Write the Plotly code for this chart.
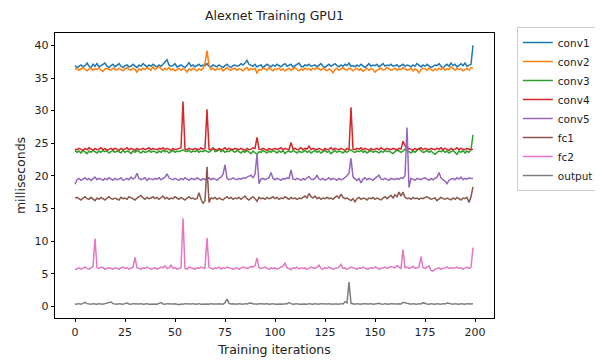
import plotly.graph_objects as go

iterations = list(range(200))

conv1 = [
36.9,36.6,36.8,37.0,36.7,36.9,37.3,36.8,36.6,37.1,36.8,37.2,36.7,36.9,37.0,37.3,36.8,36.6,36.9,37.1,
36.7,36.9,37.2,36.8,36.6,36.9,37.0,36.7,36.8,37.1,36.9,36.6,37.0,36.8,37.2,36.9,36.7,37.0,36.8,37.1,
36.9,36.7,37.0,36.8,37.1,37.4,37.8,37.0,36.8,36.9,37.2,36.7,36.9,37.0,36.8,36.6,36.9,37.4,36.8,37.0,
36.7,36.9,37.1,36.8,37.0,36.9,37.2,36.8,36.7,37.0,36.9,36.7,37.0,36.8,36.6,36.9,37.1,36.8,36.6,36.9,
37.0,36.8,36.9,37.2,37.0,37.3,37.7,37.1,36.9,36.8,37.1,36.7,36.9,37.0,36.6,36.8,37.1,36.9,36.7,37.0,
36.8,37.1,36.9,36.7,37.0,37.2,36.8,36.9,37.1,36.7,36.9,37.0,37.3,36.8,36.7,37.0,36.9,37.1,36.8,36.9,
37.0,36.7,36.9,37.2,36.8,36.6,36.9,37.1,36.8,37.0,37.2,36.9,36.7,37.0,36.8,37.1,36.9,37.3,36.8,36.9,
36.7,37.0,36.8,37.1,36.9,36.6,36.9,37.2,36.8,37.0,36.9,37.1,36.7,36.9,37.2,36.8,37.0,36.9,37.1,36.8,
36.9,37.0,36.7,36.9,37.1,36.8,37.0,36.9,36.7,37.0,36.8,37.2,36.9,36.7,37.0,36.8,37.1,36.9,36.6,36.8,
37.0,36.9,37.2,36.8,36.5,36.9,37.1,36.8,37.3,36.9,37.1,36.7,37.0,37.2,36.9,37.3,36.8,37.0,37.1,40.0]

conv2 = [
36.3,36.5,36.2,36.4,36.6,36.3,36.1,36.4,36.5,36.2,36.4,36.3,36.6,36.2,36.0,36.4,36.5,36.3,36.2,36.5,
36.4,36.2,36.5,36.3,36.1,36.4,36.6,36.3,36.2,36.5,36.3,35.9,36.4,36.2,36.5,36.3,36.6,36.4,36.2,36.7,
36.3,36.5,36.8,36.4,36.2,36.5,36.3,36.6,36.2,36.4,36.1,36.3,36.5,36.2,36.4,36.3,35.9,36.4,36.2,36.5,
36.3,36.1,36.4,36.2,36.5,37.2,39.2,37.0,36.3,36.5,36.2,36.4,36.3,36.5,36.1,36.4,36.6,36.3,36.2,36.4,
36.5,36.2,36.4,36.3,36.1,36.4,36.6,36.2,36.4,36.3,36.5,35.7,36.3,36.2,36.5,36.4,36.2,36.6,36.3,36.1,
36.4,36.3,36.5,36.2,36.4,36.1,36.3,36.5,36.2,36.4,36.6,36.3,36.1,36.4,36.2,36.5,36.3,36.4,36.2,36.5,
36.3,36.6,36.4,36.2,36.5,36.3,36.1,36.4,36.2,35.8,36.3,36.5,36.2,36.4,36.6,36.3,36.2,36.5,36.4,36.1,
36.3,36.5,36.2,36.4,36.0,36.3,36.5,36.2,36.4,36.3,35.9,36.2,36.4,36.5,36.2,36.3,36.6,36.4,36.2,36.3,
36.5,36.2,36.4,36.3,36.6,36.4,36.2,36.3,36.5,36.1,36.4,36.2,35.8,36.3,36.5,36.4,36.2,36.5,36.3,36.1,
36.4,36.2,36.5,36.3,36.6,36.2,36.4,36.3,36.7,36.4,36.2,36.5,36.3,36.4,36.1,36.3,36.5,36.2,36.6,36.5]

conv3 = [
23.9,23.6,23.8,23.5,23.9,23.7,23.4,23.8,23.6,23.9,23.7,23.5,23.8,23.6,23.9,23.7,23.8,23.5,23.7,23.9,
23.6,23.8,23.7,23.5,23.9,23.6,23.8,23.7,23.4,23.8,23.6,23.9,23.7,23.5,23.8,23.6,23.7,23.9,23.6,23.8,
23.7,23.5,23.8,23.6,23.9,23.7,23.8,23.5,23.7,23.9,23.6,23.8,23.7,23.9,24.0,23.8,23.7,23.9,23.6,23.8,
23.7,23.9,23.6,23.8,23.7,23.9,23.8,23.6,23.9,24.3,23.7,23.8,24.1,23.7,23.9,23.6,23.8,23.7,24.0,23.8,
23.6,23.9,23.7,23.5,23.8,23.6,23.9,23.7,23.4,23.8,23.5,23.3,23.7,23.6,23.9,23.7,23.5,23.8,23.6,23.9,
23.7,23.5,23.8,23.6,23.9,23.4,23.7,23.8,23.6,23.9,23.7,23.5,23.8,23.6,23.7,23.9,23.6,23.8,23.5,23.7,
23.9,23.6,23.8,23.5,23.7,23.9,23.6,23.8,23.4,23.7,23.9,23.6,23.8,23.7,23.5,23.8,23.6,23.9,24.0,23.7,
23.6,23.8,23.7,23.9,23.6,23.8,23.5,23.7,23.9,23.6,23.8,23.7,23.5,23.8,23.6,23.9,23.7,23.8,23.6,23.4,
23.7,23.9,23.8,23.6,23.8,24.1,23.9,23.7,23.5,23.8,23.6,23.9,24.2,23.8,23.6,23.7,23.9,23.6,23.8,23.5,
23.3,23.6,23.8,23.7,23.9,23.6,23.8,23.5,23.7,23.9,23.6,23.3,23.8,23.6,23.9,23.5,23.8,23.6,24.0,26.3]

conv4 = [
24.1,24.0,24.2,24.1,23.9,24.2,24.0,24.3,24.1,23.9,24.2,24.0,24.1,24.3,24.0,24.2,23.9,24.1,24.2,24.0,
24.2,24.1,23.9,24.2,24.0,24.1,24.3,24.0,24.2,24.1,23.9,24.2,24.0,24.1,24.2,24.0,24.1,24.3,24.0,24.2,
24.1,24.0,24.2,24.1,24.3,24.0,24.2,24.1,23.9,24.2,24.0,24.1,24.2,24.3,31.4,24.1,24.0,24.2,24.1,24.0,
24.2,24.1,24.0,24.3,24.1,24.2,30.2,24.1,24.0,24.2,24.1,23.9,24.2,24.0,24.1,24.3,24.0,24.2,24.1,24.0,
24.2,24.1,24.0,24.2,24.1,23.9,24.2,24.0,24.1,24.3,24.2,25.9,24.1,24.0,24.2,24.1,23.9,24.2,24.0,24.1,
24.2,24.0,24.1,24.3,24.0,24.2,24.1,24.0,25.1,24.1,24.2,24.0,24.1,24.3,24.0,24.2,24.1,24.6,24.0,24.2,
24.1,24.0,24.2,24.1,23.9,24.2,24.0,24.1,24.3,24.0,24.2,24.1,24.0,24.2,24.1,23.9,24.2,24.0,30.5,24.1,
24.0,24.2,24.1,24.3,24.0,24.2,24.1,23.9,24.2,24.0,24.1,24.2,24.0,24.3,24.1,24.0,24.2,24.1,24.0,24.2,
24.1,24.0,24.2,24.1,25.3,24.5,24.0,24.2,24.1,23.9,24.2,24.0,24.1,24.3,24.0,24.2,24.1,24.0,24.2,24.1,
24.0,24.2,24.1,24.3,24.0,24.2,24.1,23.9,24.2,24.0,24.1,24.3,24.0,24.2,24.1,24.0,24.2,24.1,24.0,24.1]

conv5 = [
18.7,19.4,19.6,19.3,19.5,19.7,19.4,19.6,19.3,19.5,19.8,19.4,19.6,19.5,19.3,19.6,19.4,19.7,19.5,19.3,
19.6,19.4,19.5,19.7,19.3,19.5,19.6,19.4,19.8,19.5,19.7,20.4,19.6,19.4,19.5,19.7,19.3,19.6,19.5,19.4,
19.6,19.5,19.7,19.4,19.6,19.8,20.3,19.7,19.5,19.4,19.6,19.5,19.3,19.6,19.4,19.7,19.5,19.3,19.6,19.5,
19.4,19.7,19.5,19.3,19.6,19.4,19.5,19.7,19.4,19.6,19.5,19.3,19.6,19.8,20.2,21.7,19.6,19.4,19.5,19.7,
19.5,19.4,19.6,19.5,19.7,19.6,19.8,19.9,20.1,19.7,20.2,23.3,18.8,19.5,19.6,19.4,19.5,19.7,20.5,19.6,
19.4,19.6,19.5,19.3,19.6,19.5,19.7,19.6,20.9,19.5,19.4,19.6,19.5,19.3,19.6,19.4,19.7,19.9,19.5,19.4,
19.6,20.1,19.5,19.4,19.6,19.3,19.5,19.7,19.4,19.6,19.5,19.3,19.6,19.4,19.5,19.7,20.0,20.4,22.7,19.8,
19.5,19.3,19.6,18.9,19.5,19.7,19.4,19.6,19.5,19.3,19.6,19.8,20.1,19.5,19.4,19.6,19.5,19.3,19.6,19.5,
19.4,19.6,19.5,19.7,19.6,20.0,27.4,18.2,19.6,19.5,19.3,19.6,19.5,19.4,19.6,19.7,19.5,19.3,19.6,19.4,
19.6,19.8,20.5,19.7,19.4,19.2,18.8,19.3,19.5,19.6,19.4,19.7,19.5,19.8,19.4,19.6,19.5,19.7,19.6,19.6]

fc1 = [
16.6,16.7,16.5,16.3,16.6,16.8,16.5,16.4,16.7,16.5,16.2,16.6,16.4,16.7,16.5,16.3,16.6,16.8,16.5,16.4,
16.6,16.5,16.3,16.7,16.5,16.6,16.4,16.8,16.6,16.5,16.3,16.6,16.8,17.0,16.6,16.4,16.7,16.5,16.6,16.8,
16.5,16.7,16.4,16.6,16.9,16.5,16.7,16.4,16.6,16.5,16.8,16.6,16.4,16.7,16.5,16.3,16.6,16.8,16.5,16.6,
16.4,16.5,17.4,16.4,15.8,16.2,21.4,15.9,16.6,16.5,16.7,16.4,16.6,16.5,16.3,16.6,16.8,16.5,16.7,16.4,
16.6,16.5,16.7,16.4,16.6,16.9,16.5,16.3,16.6,16.8,16.5,16.1,16.7,16.5,16.6,16.4,16.7,16.5,16.6,16.8,
16.5,16.7,16.4,16.6,16.5,16.8,16.6,16.4,16.7,16.5,16.6,16.4,16.6,16.5,16.7,16.9,16.6,17.3,16.8,16.6,
16.9,16.5,16.7,16.4,16.6,16.5,16.7,16.5,16.6,16.4,16.7,16.9,16.6,17.2,16.7,16.5,16.6,16.4,16.2,16.5,
16.0,16.5,16.7,16.4,16.6,16.5,16.3,16.6,16.5,16.7,16.4,16.6,16.5,16.3,16.6,16.8,16.5,16.7,17.0,16.6,
17.1,16.8,17.5,16.9,17.5,16.7,16.5,16.6,16.4,16.7,16.5,16.6,16.4,16.6,16.5,16.7,16.8,16.6,16.4,16.5,
16.6,16.2,16.5,16.7,16.5,16.4,16.6,16.5,16.3,16.6,16.4,16.7,16.5,16.3,16.6,16.5,16.7,15.9,16.8,18.3]

fc2 = [
5.6,5.8,5.9,5.7,5.9,6.0,5.8,5.7,5.9,6.1,10.4,5.9,5.8,6.0,5.9,5.7,5.8,5.9,5.8,5.7,
5.9,5.8,5.7,5.9,6.0,5.8,5.9,5.7,5.8,6.0,7.5,5.9,5.8,5.7,5.9,5.8,6.0,5.9,5.7,5.8,
5.9,5.7,5.8,6.0,5.9,6.2,5.8,5.9,6.3,5.8,5.9,5.7,5.8,5.9,13.5,5.8,5.7,6.0,5.9,5.8,
5.7,5.9,5.8,6.0,5.9,5.8,10.5,6.0,5.8,5.7,5.9,5.8,6.0,5.7,5.9,5.8,6.0,5.9,5.8,5.7,
5.8,5.9,5.7,5.8,6.0,5.9,5.8,5.9,6.1,6.0,6.2,7.4,5.9,5.8,5.9,6.0,5.8,5.7,5.9,5.8,
5.9,5.7,5.8,6.0,6.2,6.6,5.9,5.8,5.6,5.9,5.8,6.0,5.7,5.9,5.8,5.9,5.7,5.8,6.0,5.9,
5.8,6.0,6.3,5.8,5.7,5.9,5.8,6.0,5.9,5.7,5.8,5.9,6.0,6.4,5.8,5.9,5.7,5.8,6.0,5.9,
5.8,5.7,5.9,5.8,6.0,5.9,5.7,5.8,5.9,5.8,6.0,5.9,5.7,5.8,5.9,6.0,5.8,5.9,6.1,6.0,
5.9,6.2,6.0,5.8,8.7,5.9,6.0,5.8,5.9,6.1,5.8,5.9,6.0,7.6,5.9,5.8,6.0,6.2,5.5,5.4,
5.7,5.8,5.9,5.7,5.8,5.9,6.0,5.8,5.9,5.8,5.9,6.0,5.8,5.9,5.7,5.9,6.0,5.8,6.0,9.0]

output = [
0.3,0.35,0.4,0.3,0.45,0.6,0.4,0.35,0.3,0.4,0.35,0.3,0.4,0.35,0.3,0.4,0.45,0.5,0.65,0.4,
0.35,0.3,0.4,0.35,0.3,0.4,0.5,0.35,0.3,0.4,0.35,0.3,0.35,0.4,0.3,0.35,0.4,0.3,0.35,0.4,
0.35,0.3,0.4,0.55,0.35,0.3,0.4,0.35,0.3,0.35,0.4,0.3,0.25,0.35,0.3,0.4,0.35,0.3,0.35,0.4,
0.3,0.35,0.4,0.3,0.35,0.4,0.35,0.3,0.4,0.35,0.3,0.35,0.4,0.35,0.3,0.55,1.1,0.45,0.35,0.4,
0.35,0.3,0.4,0.35,0.3,0.4,0.35,0.45,0.5,0.4,0.35,0.3,0.4,0.35,0.3,0.35,0.4,0.3,0.35,0.4,
0.3,0.35,0.4,0.35,0.3,0.4,0.35,0.55,0.4,0.3,0.35,0.4,0.3,0.35,0.4,0.35,0.3,0.4,0.35,0.3,
0.4,0.35,0.3,0.4,0.35,0.3,0.35,0.4,0.3,0.35,0.4,0.35,0.3,0.4,0.35,0.7,0.5,3.7,0.45,0.35,
0.3,0.4,0.35,0.3,0.4,0.35,0.3,0.35,0.4,0.3,0.35,0.4,0.45,0.35,0.3,0.4,0.35,0.3,0.4,0.35,
0.3,0.35,0.4,0.35,0.6,0.5,0.4,0.35,0.3,0.4,0.35,0.3,0.4,0.35,0.55,0.4,0.35,0.3,0.4,0.35,
0.3,0.4,0.35,0.3,0.4,0.35,0.5,0.45,0.35,0.3,0.4,0.35,0.3,0.4,0.35,0.3,0.4,0.35,0.35,0.4]

series_names = ["conv1", "conv2", "conv3", "conv4", "conv5", "fc1", "fc2", "output"]
series_values = [conv1, conv2, conv3, conv4, conv5, fc1, fc2, output]
colors = ["#1f77b4", "#ff7f0e", "#2ca02c", "#d62728", "#9467bd", "#8c564b", "#e377c2", "#7f7f7f"]

x_ticks = [0, 25, 50, 75, 100, 125, 150, 175, 200]
y_ticks = [0, 5, 10, 15, 20, 25, 30, 35, 40]

fig = go.Figure()
for name, vals, c in zip(series_names, series_values, colors):
    fig.add_trace(go.Scatter(x=iterations[:len(vals)], y=vals, mode="lines", name=name,
                             line=dict(color=c, width=1.5)))

axis_common = dict(showgrid=False, zeroline=False, showline=True, mirror=True,
                   linecolor="black", linewidth=0.8, ticks="outside", ticklen=3.5,
                   tickcolor="black", tickwidth=0.8, automargin=False,
                   tickfont=dict(size=11, color="#222222"))

# The page body has an 8px default margin; the figure is sized to the visible area.
fig.update_layout(
    width=595, height=353,
    margin=dict(l=47, r=109, t=25, b=43, autoexpand=False),
    plot_bgcolor="white", paper_bgcolor="white",
    font=dict(family="DejaVu Sans", size=11, color="#222222"),
    title=dict(text="Alexnet Training GPU1", x=0.5, xref="paper", xanchor="center",
               y=1 - 8 / 353, yref="container", yanchor="middle",
               font=dict(size=12.5, color="#222222")),
    xaxis=dict(range=[-10, 209.5], tickvals=x_ticks,
               title=dict(text="Training iterations", standoff=7, font=dict(size=12.5)),
               **axis_common),
    yaxis=dict(range=[-1.8, 41.9], tickvals=y_ticks,
               title=dict(text="milliseconds", standoff=6, font=dict(size=12.5)),
               **axis_common),
    legend=dict(x=1.052, y=1.021, xanchor="left", yanchor="top",
                bordercolor="#cccccc", borderwidth=1, bgcolor="white",
                font=dict(size=10.5, color="#222222"), tracegroupgap=0),
    showlegend=True,
)

fig.write_html("out.html")
